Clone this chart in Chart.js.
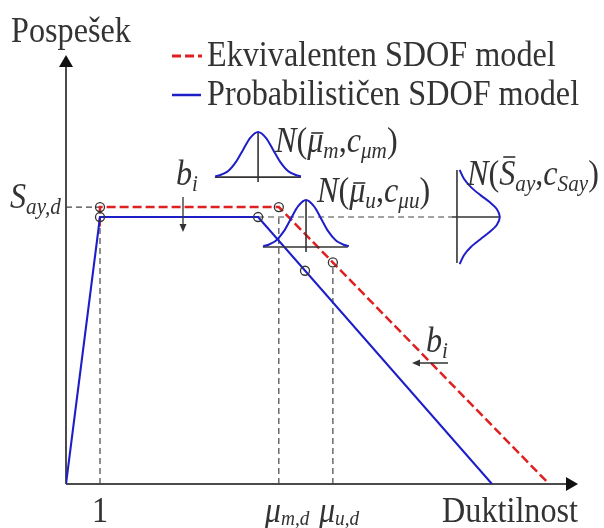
<!DOCTYPE html>
<html>
<head>
<meta charset="utf-8">
<script src="https://cdn.jsdelivr.net/npm/chart.js@4.4.1/dist/chart.umd.min.js"></script>
<style>
html, body { margin: 0; padding: 0; background: #fff; }
canvas { display: block; }
</style>
</head>
<body>
<canvas id="chart" width="604" height="528"></canvas>
<script>
// capacity curves (ductility, acceleration with S_ay,d = 1)
const blueX = [0, 1, 5.65, 12.53];
const blueY = [0, 0.964, 0.964, 0];
const redX = [0.99, 1, 6.26, 14.21];
const redY = [0.93, 1, 1, 0];

// open circles on the curves
const blueMarkX = [1, 5.65, 7.03];
const blueMarkY = [0.964, 0.964, 0.77];
const redMarkX = [1, 6.26, 7.85];
const redMarkY = [1, 1, 0.80];

// x tick labels
const tickValues = [1, 6.26, 7.85];
const tickMain = ["1", "μ", "μ"];
const tickSub = ["", "m,d", "u,d"];

// dashed helper lines
const guideSayX = [0, 1];
const guideSayY = [1, 1];
const guideLevelX = [5.65, 11.35];
const guideLevelY = [0.964, 0.964];
const guideVertX = [1, 6.26, 7.85];
const guideVertTop = [0.964, 0.964, 0.80];

// normal distributions
const bellMX = [4.39, 4.53, 4.77, 5.00, 5.21, 5.42, 5.65, 5.88, 6.09, 6.30, 6.53, 6.77, 6.91];
const bellMY = [1.111, 1.115, 1.130, 1.163, 1.207, 1.250, 1.271, 1.250, 1.207, 1.163, 1.130, 1.115, 1.111];
const bellMBaseX = [4.38, 6.91];
const bellMBaseY = [1.108, 1.108];
const bellMAxisX = [5.65, 5.65];
const bellMAxisY = [1.090, 1.271];

const bellUX = [5.80, 5.94, 6.18, 6.41, 6.62, 6.83, 7.06, 7.29, 7.50, 7.71, 7.94, 8.18, 8.32];
const bellUY = [0.859, 0.863, 0.879, 0.913, 0.959, 1.003, 1.025, 1.003, 0.959, 0.913, 0.879, 0.863, 0.859];
const bellUBaseX = [5.79, 8.29];
const bellUBaseY = [0.856, 0.856];
const bellUAxisX = [7.06, 7.06];
const bellUAxisY = [0.838, 1.025];

const bellSX = [11.58, 11.71, 11.91, 12.19, 12.46, 12.67, 12.76, 12.67, 12.46, 12.19, 11.91, 11.71, 11.58];
const bellSY = [1.134, 1.101, 1.072, 1.043, 1.018, 0.993, 0.964, 0.935, 0.910, 0.884, 0.856, 0.827, 0.794];
const bellSAxisX = [11.50, 11.50];
const bellSAxisY = [0.798, 1.134];
const bellSBaseX = [11.35, 12.76];
const bellSBaseY = [0.964, 0.964];

const RED = "rgb(222,32,32)";
const BLUE = "rgb(30,30,200)";
const GRAY = "#444";
const DARK = "#333";

const pts = (xs, ys) => xs.map((x, i) => ({ x: x, y: ys[i] }));

function line(label, data, color, width, dash, order, tension) {
	return {
		label: label,
		data: data,
		showLine: true,
		borderColor: color,
		backgroundColor: color,
		borderWidth: width,
		borderDash: dash || [],
		pointRadius: 0,
		tension: tension || 0,
		order: order,
	};
}

function marks(label, data) {
	return {
		label: label,
		data: data,
		showLine: false,
		pointRadius: 4.5,
		pointStyle: "circle",
		borderColor: DARK,
		borderWidth: 1.3,
		backgroundColor: "rgba(0,0,0,0)",
		order: 0,
	};
}

let datasets = [
	marks("krogi modra", pts(blueMarkX, blueMarkY)),
	marks("krogi rdeča", pts(redMarkX, redMarkY)),
	line("Probabilističen SDOF model", pts(blueX, blueY), BLUE, 2.1, [], 2),
	line("Ekvivalenten SDOF model", pts(redX, redY), RED, 2.5, [9, 4], 3),
	line("N mu m", pts(bellMX, bellMY), BLUE, 2, [], 1, 0.3),
	line("N mu m os", pts(bellMBaseX, bellMBaseY), DARK, 1.6, [], 1),
	line("N mu m os2", pts(bellMAxisX, bellMAxisY), DARK, 1.6, [], 1),
	line("N mu u", pts(bellUX, bellUY), BLUE, 2, [], 1, 0.3),
	line("N mu u os", pts(bellUBaseX, bellUBaseY), DARK, 1.6, [], 1),
	line("N mu u os2", pts(bellUAxisX, bellUAxisY), DARK, 1.6, [], 1),
	line("N Say", pts(bellSX, bellSY), BLUE, 2, [], 1, 0.3),
	line("N Say os", pts(bellSAxisX, bellSAxisY), DARK, 1.6, [], 1),
	line("N Say os2", pts(bellSBaseX, bellSBaseY), DARK, 1.6, [], 1),
	line("vodilo Say", pts(guideSayX, guideSayY), GRAY, 1.2, [6, 4], 5),
	line("vodilo nivo", pts(guideLevelX, guideLevelY), GRAY, 1.2, [6, 4], 5),
];
guideVertX.forEach((x, i) => {
	datasets.push(line("vodilo " + i, pts([x, x], [0, guideVertTop[i]]), GRAY, 1.2, [6, 4], 5));
});

const SX = 0.92;
const FONT = '"Liberation Serif", "Times New Roman", serif';

function put(ctx, s, x, y, size, italic, align) {
	ctx.save();
	ctx.font = (italic ? "italic " : "") + size + "px " + FONT;
	ctx.textBaseline = "alphabetic";
	ctx.textAlign = "left";
	let w = ctx.measureText(s).width * SX;
	let left = align === "center" ? x - w / 2 : align === "right" ? x - w : x;
	ctx.translate(left, y);
	ctx.scale(SX, 1);
	ctx.fillText(s, 0, 0);
	ctx.restore();
	return w;
}

// parts: [text, italic, subscript, bar height]
function math(ctx, parts, x, y) {
	let cx = x;
	parts.forEach((p) => {
		let size = p[2] ? 23 : 35;
		let w = put(ctx, p[0], cx, y + (p[2] ? 6 : 0), size, p[1]);
		if (p[3]) {
			ctx.beginPath();
			ctx.moveTo(cx + w * 0.25, y - p[3]);
			ctx.lineTo(cx + w * 1.0, y - p[3]);
			ctx.lineWidth = 1.6;
			ctx.strokeStyle = DARK;
			ctx.stroke();
		}
		cx += w;
	});
}

function head(ctx, tx, ty, dx, dy, len, half) {
	ctx.beginPath();
	ctx.moveTo(tx, ty);
	ctx.lineTo(tx - dx * len - dy * half, ty - dy * len + dx * half);
	ctx.lineTo(tx - dx * len + dy * half, ty - dy * len - dx * half);
	ctx.closePath();
	ctx.fill();
}

const decor = {
	id: "decor",
	beforeDatasetsDraw(chart) {
		const ctx = chart.ctx;
		const a = chart.chartArea;
		ctx.save();
		ctx.strokeStyle = "#111";
		ctx.fillStyle = "#111";
		ctx.lineWidth = 1.5;
		ctx.beginPath();
		ctx.moveTo(a.left, a.bottom);
		ctx.lineTo(a.left, a.top + 8);
		ctx.moveTo(a.left, a.bottom);
		ctx.lineTo(a.right - 8, a.bottom);
		ctx.stroke();
		head(ctx, a.left, a.top, 0, -1, 12, 7);
		head(ctx, a.right, a.bottom, 1, 0, 12, 7);
		ctx.restore();
	},
	afterDatasetsDraw(chart) {
		const ctx = chart.ctx;
		const a = chart.chartArea;
		const xs = chart.scales.x;
		ctx.save();
		ctx.fillStyle = DARK;

		put(ctx, "Pospešek", 11, 42, 35, false);
		put(ctx, "Duktilnost", a.right, a.bottom + 38, 35, false, "right");

		// legend
		ctx.lineWidth = 3;
		ctx.strokeStyle = RED;
		ctx.setLineDash([9, 4]);
		ctx.beginPath();
		ctx.moveTo(172, 56);
		ctx.lineTo(202, 56);
		ctx.stroke();
		ctx.setLineDash([]);
		ctx.lineWidth = 2.5;
		ctx.strokeStyle = BLUE;
		ctx.beginPath();
		ctx.moveTo(172, 95);
		ctx.lineTo(201, 95);
		ctx.stroke();
		put(ctx, "Ekvivalenten SDOF model", 207, 66, 35, false);
		put(ctx, "Probabilističen SDOF model", 207, 105, 35, false);

		// x tick labels
		tickValues.forEach((v, i) => {
			let px = xs.getPixelForValue(v);
			if (tickSub[i]) {
				let w = put(ctx, tickMain[i], px - 14, a.bottom + 38, 35, true);
				put(ctx, tickSub[i], px - 14 + w, a.bottom + 41, 21, true);
			} else {
				put(ctx, tickMain[i], px, a.bottom + 38, 35, false, "center");
			}
		});

		// S_ay,d
		math(ctx, [["S", true], ["ay,d", true, true]], 10, 208);

		// distributions
		math(ctx, [["N", true], ["(", false], ["μ", true, false, 19], ["m", true, true], [",", false], ["c", true], ["μm", true, true], [")", false]], 275, 152);
		math(ctx, [["N", true], ["(", false], ["μ", true, false, 19], ["u", true, true], [",", false], ["c", true], ["μu", true, true], [")", false]], 317, 202);
		math(ctx, [["N", true], ["(", false], ["S", true, false, 28], ["ay", true, true], [",", false], ["c", true], ["Say", true, true], [")", false]], 467, 185);

		// b_i with arrows
		math(ctx, [["b", true], ["i", true, true]], 176, 185);
		math(ctx, [["b", true], ["i", true, true]], 426, 352);
		ctx.strokeStyle = DARK;
		ctx.fillStyle = DARK;
		ctx.lineWidth = 1.3;
		ctx.beginPath();
		ctx.moveTo(183, 197);
		ctx.lineTo(183, 226);
		ctx.moveTo(448, 363);
		ctx.lineTo(418, 363);
		ctx.stroke();
		head(ctx, 183, 232, 0, 1, 8, 3.5);
		head(ctx, 412, 363, -1, 0, 8, 3.5);
		ctx.restore();
	},
};

const chart = new Chart(document.getElementById("chart"), {
	type: "scatter",
	data: { datasets: datasets },
	options: {
		responsive: false,
		animation: false,
		devicePixelRatio: 1,
		layout: { padding: { left: 66, right: 26, top: 55, bottom: 44 } },
		scales: {
			x: { type: "linear", min: 0, max: 15.06, display: false },
			y: { type: "linear", min: 0, max: 1.549, display: false },
		},
		plugins: {
			legend: { display: false },
			tooltip: { enabled: false },
		},
	},
	plugins: [decor],
});
</script>
</body>
</html>
